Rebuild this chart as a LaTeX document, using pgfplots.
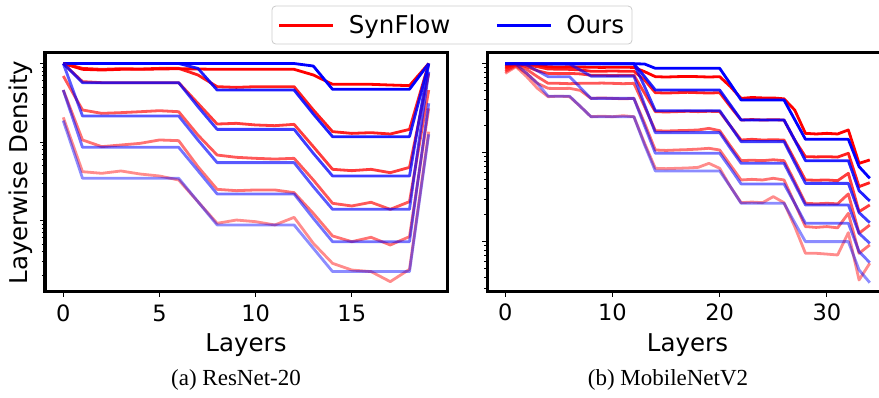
\documentclass[border=0pt]{standalone}
\usepackage{pgfplots}
\pgfplotsset{compat=1.18}
\usepackage{pgfplotstable}
\usepackage{fontspec}
\setmainfont{DejaVu Sans}
\newfontfamily\capfont{Liberation Serif}
\newcommand\tickfont{\fontsize{22.5bp}{27bp}\selectfont}
\newcommand\labfont{\fontsize{24.5bp}{29bp}\selectfont}
\newcommand\legfont{\fontsize{24.5bp}{29bp}\selectfont}
\newcommand\cfont{\capfont\fontsize{23bp}{27bp}\selectfont}

% values are log10(layerwise density)
\pgfplotstableread{
x R1 B1 R2 B2 R3 B3 R4 B4 R5 B5 R6 B6
0 0 0 0 0 0 0 -0.159 0 -0.338 -0.338 -0.686 -0.728
1 -0.074 0 -0.062 0 -0.231 -0.244 -0.592 -0.669 -0.974 -1.068 -1.378 -1.462
2 -0.083 0 -0.074 0 -0.244 -0.244 -0.635 -0.669 -1.059 -1.068 -1.399 -1.462
3 -0.074 0 -0.066 0 -0.244 -0.244 -0.626 -0.669 -1.038 -1.068 -1.369 -1.462
4 -0.074 0 -0.070 0 -0.244 -0.244 -0.614 -0.669 -1.017 -1.068 -1.408 -1.462
5 -0.070 0 -0.062 0 -0.244 -0.244 -0.601 -0.669 -0.974 -1.068 -1.433 -1.462
6 -0.066 0 -0.062 0 -0.244 -0.244 -0.614 -0.669 -0.983 -1.068 -1.484 -1.462
7 -0.070 0 -0.146 -0.062 -0.507 -0.550 -0.911 -0.974 -1.314 -1.365 -1.760 -1.760
8 -0.074 0 -0.295 -0.338 -0.771 -0.839 -1.166 -1.263 -1.603 -1.662 -2.036 -2.057
9 -0.074 0 -0.304 -0.338 -0.762 -0.839 -1.195 -1.263 -1.620 -1.662 -1.994 -2.057
10 -0.074 0 -0.295 -0.338 -0.783 -0.839 -1.208 -1.263 -1.611 -1.662 -2.015 -2.057
11 -0.074 0 -0.295 -0.338 -0.792 -0.839 -1.217 -1.263 -1.611 -1.662 -2.057 -2.057
12 -0.074 0 -0.295 -0.338 -0.775 -0.839 -1.208 -1.263 -1.645 -1.662 -1.960 -2.057
13 -0.146 -0.032 -0.592 -0.643 -1.059 -1.144 -1.484 -1.569 -1.909 -1.972 -2.291 -2.354
14 -0.265 -0.329 -0.868 -0.932 -1.348 -1.433 -1.781 -1.858 -2.197 -2.270 -2.546 -2.651
15 -0.265 -0.329 -0.890 -0.932 -1.365 -1.433 -1.815 -1.858 -2.270 -2.270 -2.631 -2.651
16 -0.265 -0.329 -0.881 -0.932 -1.348 -1.433 -1.768 -1.858 -2.214 -2.270 -2.651 -2.651
17 -0.274 -0.329 -0.898 -0.932 -1.391 -1.433 -1.858 -1.858 -2.312 -2.270 -2.779 -2.651
18 -0.282 -0.329 -0.839 -0.932 -1.323 -1.433 -1.760 -1.858 -2.206 -2.270 -2.622 -2.651
19 0 0 0 0 -0.125 0 -0.338 -0.104 -0.571 -0.507 -0.868 -0.902
}\resnet

\pgfplotstableread{
x R1 B1 R2 B2 R3 B3 R4 B4 R5 B5 R6 B6
0 -0.015 0 -0.034 0 -0.052 0 -0.071 0 -0.090 0 -0.109 0
1 0 0 -0.004 0 -0.004 0 -0.015 0 -0.026 0 -0.034 -0.004
2 -0.004 0 -0.015 0 -0.034 0 -0.064 0 -0.109 -0.015 -0.146 -0.109
3 -0.015 0 -0.034 0 -0.079 0 -0.146 0 -0.221 -0.080 -0.277 -0.221
4 -0.035 0 -0.060 0 -0.109 0 -0.221 -0.004 -0.277 -0.146 -0.371 -0.365
5 -0.038 0 -0.062 0 -0.112 0 -0.221 -0.004 -0.280 -0.146 -0.365 -0.365
6 -0.035 0 -0.064 0 -0.109 0 -0.225 -0.004 -0.277 -0.146 -0.371 -0.365
7 -0.038 0 -0.070 0 -0.115 0 -0.221 -0.071 -0.300 -0.268 -0.480 -0.480
8 -0.040 0 -0.085 0 -0.130 0 -0.221 -0.140 -0.390 -0.390 -0.596 -0.596
9 -0.042 0 -0.085 0 -0.130 0 -0.218 -0.140 -0.385 -0.390 -0.590 -0.596
10 -0.040 0 -0.082 0 -0.133 0 -0.221 -0.140 -0.390 -0.390 -0.596 -0.596
11 -0.040 0 -0.085 0 -0.130 0 -0.225 -0.140 -0.395 -0.390 -0.585 -0.596
12 -0.042 0 -0.085 0 -0.130 0 -0.221 -0.140 -0.390 -0.390 -0.596 -0.596
13 -0.090 -0.004 -0.184 -0.146 -0.333 -0.258 -0.483 -0.464 -0.670 -0.700 -0.895 -0.914
14 -0.146 -0.052 -0.326 -0.296 -0.539 -0.528 -0.753 -0.775 -0.970 -1.007 -1.176 -1.206
15 -0.150 -0.052 -0.330 -0.296 -0.543 -0.528 -0.757 -0.775 -0.975 -1.007 -1.180 -1.206
16 -0.146 -0.052 -0.326 -0.296 -0.539 -0.528 -0.753 -0.775 -0.970 -1.007 -1.176 -1.206
17 -0.143 -0.052 -0.322 -0.296 -0.535 -0.528 -0.750 -0.775 -0.966 -1.007 -1.172 -1.206
18 -0.146 -0.052 -0.326 -0.296 -0.539 -0.528 -0.745 -0.775 -0.960 -1.007 -1.165 -1.206
19 -0.150 -0.052 -0.330 -0.296 -0.535 -0.528 -0.727 -0.775 -0.951 -1.007 -1.120 -1.206
20 -0.146 -0.052 -0.326 -0.296 -0.539 -0.528 -0.753 -0.775 -0.970 -1.007 -1.176 -1.206
21 -0.258 -0.228 -0.483 -0.464 -0.700 -0.700 -0.925 -0.951 -1.139 -1.176 -1.382 -1.382
22 -0.390 -0.408 -0.633 -0.633 -0.858 -0.876 -1.090 -1.120 -1.307 -1.352 -1.562 -1.569
23 -0.380 -0.408 -0.628 -0.633 -0.850 -0.876 -1.085 -1.120 -1.300 -1.352 -1.555 -1.569
24 -0.385 -0.408 -0.633 -0.633 -0.858 -0.876 -1.090 -1.120 -1.307 -1.352 -1.562 -1.569
25 -0.385 -0.408 -0.630 -0.633 -0.855 -0.876 -1.080 -1.120 -1.288 -1.352 -1.494 -1.569
26 -0.395 -0.408 -0.633 -0.633 -0.858 -0.876 -1.090 -1.120 -1.307 -1.352 -1.562 -1.569
27 -0.521 -0.629 -0.858 -0.858 -1.082 -1.112 -1.326 -1.352 -1.569 -1.569 -1.831 -1.787
28 -0.783 -0.850 -1.045 -1.090 -1.307 -1.345 -1.569 -1.588 -1.831 -1.794 -2.131 -2.000
29 -0.790 -0.850 -1.048 -1.090 -1.310 -1.345 -1.575 -1.588 -1.840 -1.794 -2.131 -2.000
30 -0.783 -0.850 -1.045 -1.090 -1.307 -1.345 -1.569 -1.588 -1.831 -1.794 -2.140 -2.000
31 -0.790 -0.850 -1.050 -1.090 -1.315 -1.345 -1.575 -1.588 -1.845 -1.794 -2.150 -2.000
32 -0.745 -0.850 -1.007 -1.090 -1.232 -1.345 -1.464 -1.588 -1.682 -1.794 -1.899 -2.000
33 -1.120 -1.157 -1.382 -1.427 -1.663 -1.674 -1.906 -1.906 -2.131 -2.112 -2.431 -2.318
34 -1.082 -1.288 -1.337 -1.543 -1.588 -1.787 -1.813 -2.019 -2.037 -2.236 -2.243 -2.461
}\mobile

\pgfplotsset{
  densaxis/.style={
    scale only axis, width=#1, height=239bp,
    axis line style={line width=3bp, black},
    tick align=outside, xtick pos=bottom, ytick pos=left,
    major tick length=5bp, minor tick length=3bp,
    every tick/.style={black, line width=0.9bp},
    ytick={-3,-2,-1,0},
    minor ytick={-2.699,-2.523,-2.398,-2.301,-2.222,-2.155,-2.097,-2.046,
                 -1.699,-1.523,-1.398,-1.301,-1.222,-1.155,-1.097,-1.046,
                 -0.699,-0.523,-0.398,-0.301,-0.222,-0.155,-0.097,-0.046},
    yticklabels={},
    /pgf/number format/assume math mode=true,
    xticklabel style={font=\tickfont, anchor=base, yshift=-24bp},
    xlabel={Layers},
    xlabel style={font=\labfont, at={(axis description cs:0.5,-0.251)}, anchor=base},
    every axis plot/.append style={line width=2.8bp, line join=round, forget plot},
  },
  r1/.style={red, draw opacity=1.0}, b1/.style={blue, draw opacity=1.0},
  r2/.style={red, draw opacity=0.88}, b2/.style={blue, draw opacity=0.88},
  r3/.style={red, draw opacity=0.76}, b3/.style={blue, draw opacity=0.76},
  r4/.style={red, draw opacity=0.65}, b4/.style={blue, draw opacity=0.65},
  r5/.style={red, draw opacity=0.55}, b5/.style={blue, draw opacity=0.55},
  r6/.style={red, draw opacity=0.45}, b6/.style={blue, draw opacity=0.45},
}

\begin{document}
\begin{tikzpicture}
\begin{axis}[densaxis=402bp, at={(45bp,106bp)}, anchor=south west,
  xmin=-0.95, xmax=19.95, ymin=-2.911, ymax=0.134,
  xtick={0,5,10,15},
  ylabel={Layerwise Density},
  ylabel style={font=\labfont, at={(axis description cs:-0.06,0.5)}, anchor=center},
  legend columns=2,
  legend style={at={(1.0124,1.117)}, anchor=center, font=\legfont,
    draw={rgb,255:red,204;green,204;blue,204}, line width=0.8bp, rounded corners=4bp,
    inner xsep=6bp, inner ysep=7bp,
    /tikz/every odd column/.append style={column sep=12bp},
    /tikz/every even column/.append style={column sep=43bp}},
  legend image code/.code={\draw[#1] (0bp,0bp) -- (54bp,0bp);},
]
\addlegendimage{red, line width=3bp}
\addlegendentry{SynFlow}
\addlegendimage{blue, line width=3bp}
\addlegendentry{Ours}
\pgfplotsinvokeforeach{1,...,6}{
  \addplot[r#1] table[x=x, y=R#1] {\resnet};
  \addplot[b#1] table[x=x, y=B#1] {\resnet};
}
\end{axis}
\begin{axis}[densaxis=401bp, at={(487bp,106bp)}, anchor=south west,
  xmin=-1.7, xmax=35.7, ymin=-2.566, ymax=0.120,
  xtick={0,10,20,30},
]
\pgfplotsinvokeforeach{1,...,6}{
  \addplot[r#1] table[x=x, y=R#1] {\mobile};
  \addplot[b#1] table[x=x, y=B#1] {\mobile};
}
\end{axis}
\node[font=\cfont] at (236bp,18bp) {(a) ResNet-20};
\node[font=\cfont] at (668bp,18bp) {(b) MobileNetV2};
\pgfresetboundingbox
\useasboundingbox (0,0) rectangle (879bp,398bp);
\end{tikzpicture}
\end{document}
